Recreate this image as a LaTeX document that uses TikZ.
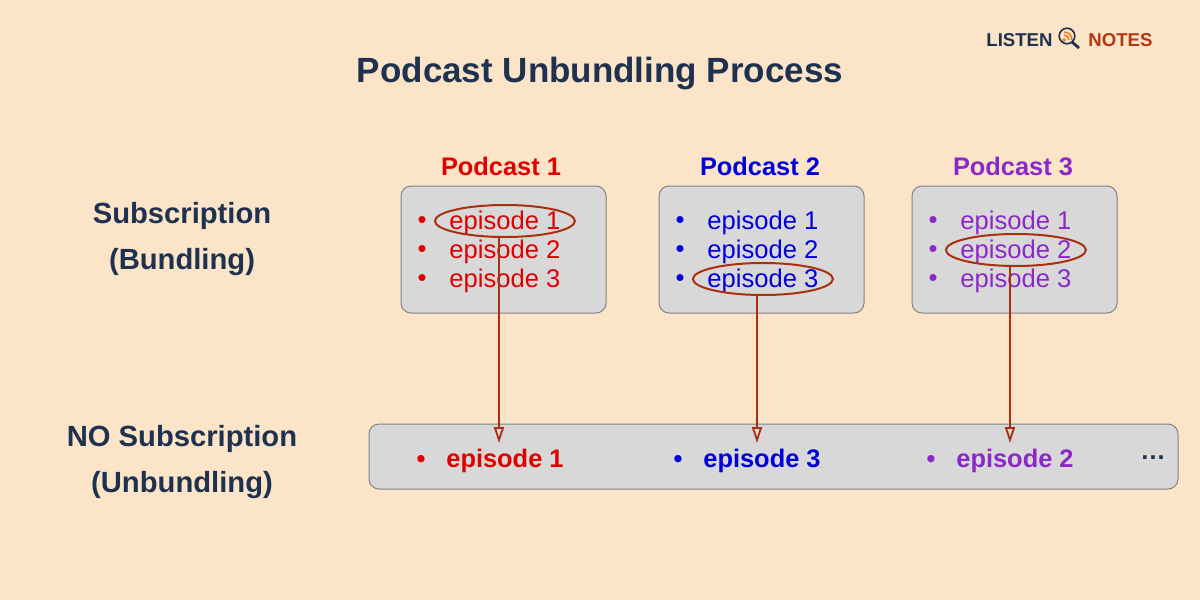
\documentclass[tikz,border=0pt]{standalone}
\usepackage{fontspec}
\setmainfont{Liberation Sans}
\usetikzlibrary{shapes.geometric, arrows.meta, positioning}
\definecolor{bg}{RGB}{251,228,199}
\definecolor{navy}{RGB}{30,50,80}
\definecolor{pred}{RGB}{224,0,0}
\definecolor{pblue}{RGB}{0,0,220}
\definecolor{ppurple}{RGB}{140,40,200}
\definecolor{rust}{RGB}{168,48,16}
\definecolor{logorust}{RGB}{180,56,15}
\definecolor{logoorange}{RGB}{240,112,32}
\definecolor{boxgray}{RGB}{216,216,216}
\definecolor{edgegray}{RGB}{130,130,130}
\tikzstyle{box} = [rectangle, 
			draw = edgegray, 
			fill = boxgray, 
			rounded corners = 5pt, 
			line width = 0.5pt, 
			minimum width = 102.5pt, 
			minimum height = 63.5pt]
\tikzstyle{bar} = [box, 
			minimum width = 404.5pt, 
			minimum height = 32.5pt]
\tikzstyle{item} = [inner sep = 0pt, 
			anchor = west, 
			font = \fontsize{12.8}{14}\selectfont]
\tikzstyle{pick} = [inner sep = 0pt, 
			anchor = west, 
			font = \fontsize{12.7}{14}\selectfont\bfseries]
\tikzstyle{bullet} = [inner sep = 0pt, 
			font = \fontsize{12.8}{14}\selectfont]
\tikzstyle{ring} = [ellipse, 
			draw = rust, 
			line width = 1pt, 
			minimum width = 70pt, 
			minimum height = 16pt]
\tikzstyle{header} = [font = \fontsize{12.7}{14}\selectfont\bfseries]
\tikzstyle{side} = [align = center, 
			text = navy, 
			font = \fontsize{14.6}{23}\selectfont\bfseries]
\tikzstyle{logo} = [inner sep = 0pt, 
			anchor = west, 
			font = \fontsize{9.3}{11}\selectfont\bfseries]
\tikzstyle{line} = [draw = rust, line width = 0.9pt, 
			-{Triangle[open, length = 8pt, width = 5pt]}]
\begin{document}
\begin{tikzpicture}[x = 0.5pt, y = -0.5pt]
	\fill [bg] (0,0) rectangle (1200,600);
	\useasboundingbox (0,0) rectangle (1200,600);
	% title and logo
	\node [text = navy, font = \fontsize{17.5}{20}\selectfont\bfseries] (title) at (600,74) {Podcast Unbundling Process};
	\node [logo, text = navy] (listen) at (986,40) {LISTEN};
	\node [logo, text = logorust] (notes) at (1088,40) {NOTES};
	\draw [navy, line width = 0.8pt] (1067,36) circle [radius = 3.9pt];
	\draw [navy, line width = 1.4pt] (1072,42) -- (1079,48);
	\fill [logoorange] (1064,40) circle [radius = 0.9pt];
	\draw [logoorange, line width = 0.7pt] (1064,40) ++(0pt,2.5pt) arc [start angle = 90, end angle = 0, radius = 2.5pt];
	\draw [logoorange, line width = 0.7pt] (1064,40) ++(0pt,4pt) arc [start angle = 90, end angle = 0, radius = 4pt];
	% row labels
	\node [side] (bundle) at (182,239) {Subscription\\(Bundling)};
	\node [side] (unbundle) at (182,462) {NO Subscription\\(Unbundling)};
	% podcasts
	\node [header, text = pred] (pod1) at (501,166) {Podcast 1};
	\node [header, text = pblue] (pod2) at (760,166) {Podcast 2};
	\node [header, text = ppurple] (pod3) at (1013,166) {Podcast 3};
	\node [box] (box1) at (503.5,249.5) {};
	\node [box] (box2) at (761.5,249.5) {};
	\node [box] (box3) at (1014.5,249.5) {};
	% podcast 1
	\node [item, text = pred] (p1e1) at (449,223) {episode 1};
	\node [item, text = pred] (p1e2) at (449,252) {episode 2};
	\node [item, text = pred] (p1e3) at (449,281) {episode 3};
	\node [bullet, text = pred, left = 11pt of p1e1] {•};
	\node [bullet, text = pred, left = 11pt of p1e2] {•};
	\node [bullet, text = pred, left = 11pt of p1e3] {•};
	% podcast 2
	\node [item, text = pblue] (p2e1) at (707,223) {episode 1};
	\node [item, text = pblue] (p2e2) at (707,252) {episode 2};
	\node [item, text = pblue] (p2e3) at (707,281) {episode 3};
	\node [bullet, text = pblue, left = 11pt of p2e1] {•};
	\node [bullet, text = pblue, left = 11pt of p2e2] {•};
	\node [bullet, text = pblue, left = 11pt of p2e3] {•};
	% podcast 3
	\node [item, text = ppurple] (p3e1) at (960,223) {episode 1};
	\node [item, text = ppurple] (p3e2) at (960,252) {episode 2};
	\node [item, text = ppurple] (p3e3) at (960,281) {episode 3};
	\node [bullet, text = ppurple, left = 11pt of p3e1] {•};
	\node [bullet, text = ppurple, left = 11pt of p3e2] {•};
	\node [bullet, text = ppurple, left = 11pt of p3e3] {•};
	% picked episodes
	\node [ring] (ring1) at ([yshift = 1pt]p1e1) {};
	\node [ring] (ring2) at ([yshift = 1pt]p2e3) {};
	\node [ring] (ring3) at ([yshift = 1pt]p3e2) {};
	% unbundled list
	\node [bar] (bar) at (773.5,456.5) {};
	\node [pick, text = pred] (b1) at (446,461) {episode 1};
	\node [pick, text = pblue] (b2) at (703,461) {episode 3};
	\node [pick, text = ppurple] (b3) at (956,461) {episode 2};
	\node [bullet, text = pred, font = \fontsize{12.7}{14}\selectfont\bfseries, left = 10pt of b1] {•};
	\node [bullet, text = pblue, font = \fontsize{12.7}{14}\selectfont\bfseries, left = 10pt of b2] {•};
	\node [bullet, text = ppurple, font = \fontsize{12.7}{14}\selectfont\bfseries, left = 10pt of b3] {•};
	\node [text = navy, inner sep = 0pt, font = \fontsize{12.7}{14}\selectfont\bfseries] (more) at (1153,458) {\dots};
	% arrows
	\coordinate (tgt1) at (499,443);
	\coordinate (tgt2) at (757,443);
	\coordinate (tgt3) at (1010,443);
	\path [line] (ring1.south -| tgt1) -- (tgt1);
	\path [line] (ring2.south -| tgt2) -- (tgt2);
	\path [line] (ring3.south -| tgt3) -- (tgt3);
\end{tikzpicture}
\end{document}
